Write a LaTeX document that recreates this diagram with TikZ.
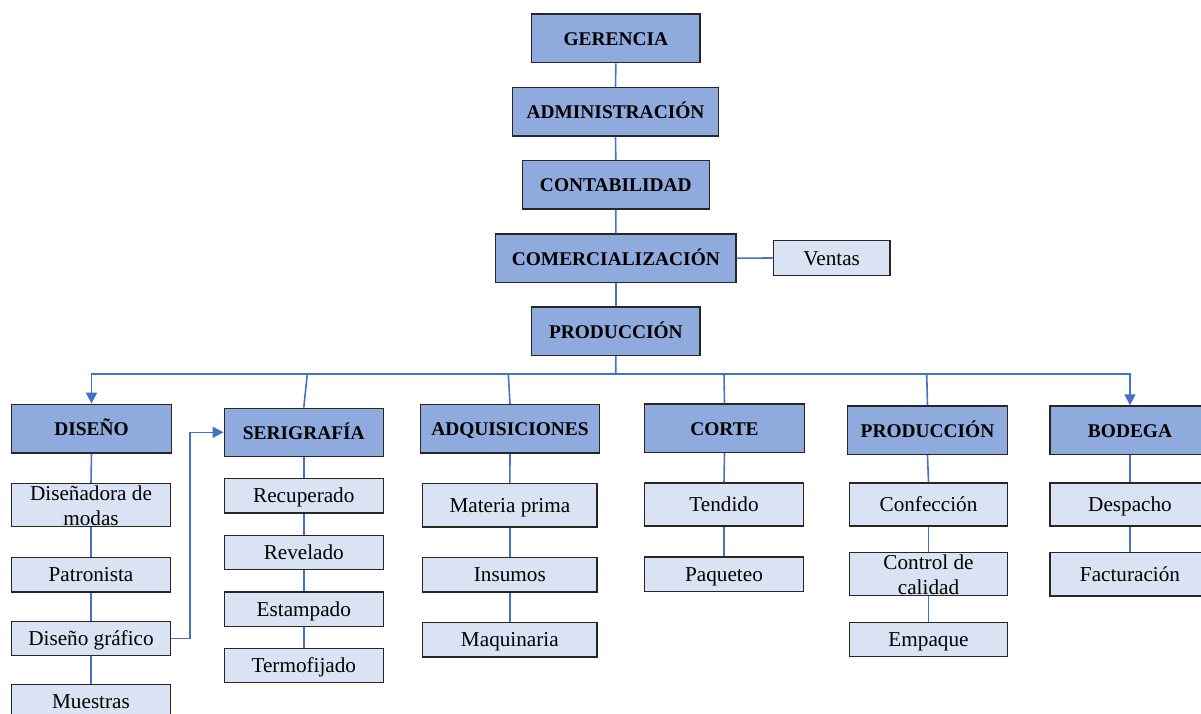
\documentclass[tikz,border=0pt]{standalone}
\usepackage{fontspec}
\setmainfont{Liberation Serif}
\usetikzlibrary{arrows.meta}
\definecolor{darkfill}{HTML}{8FAADC}
\definecolor{lightfill}{HTML}{DAE3F3}
\definecolor{boxline}{HTML}{262626}
\definecolor{connblue}{HTML}{4472C4}
\tikzset{
  headbox/.style={draw=boxline, line width=1.4pt, fill=darkfill, inner sep=0pt,
    font=\fontsize{19.4}{22}\selectfont\bfseries, align=center,
    text height=14pt, text depth=0pt},
  subbox/.style={draw=boxline, line width=1.4pt, fill=lightfill, inner sep=0pt,
    font=\fontsize{21.2}{25}\selectfont, align=center,
    text height=14pt, text depth=0pt},
  twoline/.style={text height=41pt, text depth=0pt},
  conn/.style={draw=connblue, line width=1.6pt},
  tip/.style={-{Triangle[length=11pt,width=11pt]}}
}
\begin{document}
\begin{tikzpicture}[x=1pt,y=-1pt]
\useasboundingbox (0,0) rectangle (1201,713);
\clip (0,0) rectangle (1201,713);
% top chain
\node[headbox, minimum width=168.3, minimum height=48.7] (ger) at (615.85,38.35) {GERENCIA};
\node[headbox, minimum width=205.6, minimum height=48.3] (adm) at (615.5,111.85) {ADMINISTRACIÓN};
\node[headbox, minimum width=187, minimum height=48.3] (con) at (615.8,184.85) {CONTABILIDAD};
\node[headbox, minimum width=240.3, minimum height=48.3] (com) at (615.85,258.15) {COMERCIALIZACIÓN};
\node[subbox, minimum width=116.7, minimum height=34.6] (ven) at (831.65,258) {Ventas};
\node[headbox, minimum width=168.3, minimum height=48.3] (pro) at (615.85,331.15) {PRODUCCIÓN};
% departments
\node[headbox, minimum width=159.6, minimum height=48.7] (dis) at (91.5,428.65) {DISEÑO};
\node[headbox, minimum width=159, minimum height=48] (ser) at (303.8,432.3) {SERIGRAFÍA};
\node[headbox, minimum width=178.6, minimum height=48.3] (adq) at (510,428.85) {ADQUISICIONES};
\node[headbox, minimum width=159.6, minimum height=48.3] (cor) at (724.5,428.15) {CORTE};
\node[headbox, minimum width=159.6, minimum height=48.3] (pr2) at (927.5,430.15) {PRODUCCIÓN};
\node[headbox, minimum width=160, minimum height=48.3] (bod) at (1130,430.15) {BODEGA};
% diseño column
\node[subbox, twoline, minimum width=158.6, minimum height=43] (dm) at (91,505.2) {Diseñadora de\\modas};
\node[subbox, minimum width=158.6, minimum height=34.3] (pat) at (91,574.85) {Patronista};
\node[subbox, minimum width=158.6, minimum height=34.4] (dg) at (91,638.5) {Diseño gráfico};
\node[subbox, minimum width=158.6, minimum height=34.4] (mue) at (91,701.5) {Muestras};
% serigrafía column
\node[subbox, minimum width=159, minimum height=34.3] (rec) at (303.8,495.85) {Recuperado};
\node[subbox, minimum width=159, minimum height=34.3] (rev) at (303.8,552.5) {Revelado};
\node[subbox, minimum width=159, minimum height=34.3] (est) at (303.8,609.15) {Estampado};
\node[subbox, minimum width=159, minimum height=34.3] (ter) at (303.8,665.5) {Termofijado};
% adquisiciones column
\node[subbox, minimum width=174.3, minimum height=43.3] (mp) at (509.85,505.35) {Materia prima};
\node[subbox, minimum width=174.3, minimum height=34.3] (ins) at (509.85,574.85) {Insumos};
\node[subbox, minimum width=174.3, minimum height=34.3] (maq) at (509.85,639.85) {Maquinaria};
% corte column
\node[subbox, minimum width=158.6, minimum height=43] (ten) at (724,504.5) {Tendido};
\node[subbox, minimum width=158.6, minimum height=34.3] (paq) at (724,574.15) {Paqueteo};
% producción column
\node[subbox, minimum width=157.6, minimum height=43] (conf) at (928.5,504.5) {Confección};
\node[subbox, twoline, minimum width=157.6, minimum height=43] (cc) at (928.5,574.2) {Control de\\calidad};
\node[subbox, minimum width=157.6, minimum height=34.4] (emp) at (928.5,639.5) {Empaque};
% bodega column
\node[subbox, minimum width=160, minimum height=43] (desp) at (1130,504.5) {Despacho};
\node[subbox, minimum width=160, minimum height=43.3] (fac) at (1130,574.35) {Facturación};
% top connectors
\draw[conn] (ger.south) -- (adm.north);
\draw[conn] (adm.south) -- (con.north);
\draw[conn] (con.south) -- (com.north);
\draw[conn] (com.south) -- (pro.north);
\draw[conn] (com.east) -- (ven.west);
% bus
\coordinate (busc) at (615.7,374);
\coordinate (b2) at (307.3,374);
\coordinate (b3) at (508.3,374);
\coordinate (b4) at (724,374);
\coordinate (b5) at (926.7,374);
\draw[conn] (pro.south) -- (busc);
\draw[conn, tip] (busc) -| (dis.north);
\draw[conn, tip] (busc) -| (bod.north);
\draw[conn] (b2) -- (ser.north);
\draw[conn] (b3) -- (adq.north);
\draw[conn] (b4) -- (cor.north);
\draw[conn] (b5) -- (pr2.north);
% column connectors
\draw[conn] (dis.south) -- (dm.north);
\draw[conn] (dm.south) -- (pat.north);
\draw[conn] (pat.south) -- (dg.north);
\draw[conn] (dg.south) -- (mue.north);
\draw[conn, tip] (dg.east) -- ++(19,0) |- (ser.west);
\draw[conn] (ser.south) -- (rec.north);
\draw[conn] (rec.south) -- (rev.north);
\draw[conn] (rev.south) -- (est.north);
\draw[conn] (est.south) -- (ter.north);
\draw[conn] (adq.south) -- (mp.north);
\draw[conn] (mp.south) -- (ins.north);
\draw[conn] (ins.south) -- (maq.north);
\draw[conn] (cor.south) -- (ten.north);
\draw[conn] (ten.south) -- (paq.north);
\draw[conn] (pr2.south) -- (conf.north);
\draw[conn] (conf.south) -- (cc.north);
\draw[conn] (cc.south) -- (emp.north);
\draw[conn] (bod.south) -- (desp.north);
\draw[conn] (desp.south) -- (fac.north);
\end{tikzpicture}
\end{document}
